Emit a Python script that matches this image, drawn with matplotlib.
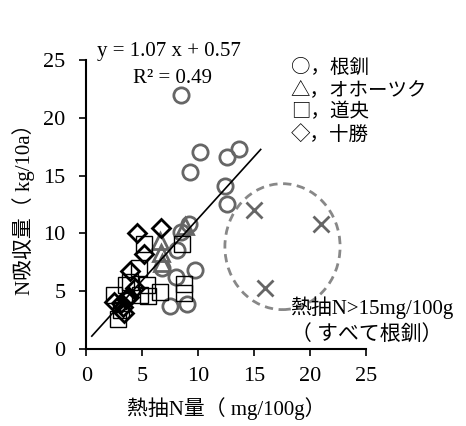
import matplotlib
matplotlib.use('Agg')
import matplotlib.pyplot as plt
from matplotlib.patches import Ellipse

plt.rcParams['font.family'] = ['Liberation Serif', 'Noto Sans CJK JP']

# 根釧 (circles)
konsen_x = [8.5, 10.2, 12.6, 13.7, 9.3, 12.4, 12.6, 9.2, 8.5, 8.1, 6.8, 8.0, 9.7, 7.5, 9.0]
konsen_y = [22.0, 17.0, 16.6, 17.3, 15.3, 14.1, 12.5, 10.8, 10.1, 8.6, 7.0, 6.2, 6.8, 3.7, 3.9]
# オホーツク (triangles)
okhotsk_x = [6.6, 6.7, 6.8, 8.8]
okhotsk_y = [9.3, 8.3, 7.4, 10.6]
# 道央 (squares)
doo_x = [5.2, 4.7, 5.4, 2.5, 3.6, 4.8, 5.5, 6.6, 8.7, 8.7, 8.6, 2.8, 3.1, 3.9]
doo_y = [9.1, 7.0, 5.5, 4.7, 5.5, 4.7, 4.6, 4.9, 5.6, 4.8, 9.1, 2.6, 3.4, 5.8]
# 十勝 (diamonds)
tokachi_x = [4.5, 6.7, 5.2, 3.9, 4.4, 2.5, 3.1, 3.6, 3.4, 3.8, 3.3]
tokachi_y = [10.0, 10.5, 8.2, 6.7, 5.3, 4.1, 4.0, 4.3, 3.1, 4.5, 3.6]
# 熱抽N>15mg/100g
high_x = [15.0, 21.0, 16.0]
high_y = [12.0, 10.8, 5.3]

slope, intercept = 1.07, 0.57
fit_x = [0.5, 15.6]
fit_y = [slope * v + intercept for v in fit_x]

fig = plt.figure(figsize=(4.66, 4.26), dpi=100)
ax = fig.add_axes([0.185, 0.181, 0.6, 0.678])

gray = '#666666'
ax.plot(konsen_x, konsen_y, 'o', ms=11, mfc='none', mec=gray, mew=2)
ax.plot(okhotsk_x, okhotsk_y, '^', ms=11, mfc='none', mec=gray, mew=2)
ax.plot(doo_x, doo_y, 's', ms=12, mfc='none', mec='black', mew=1)
ax.plot(tokachi_x, tokachi_y, 'D', ms=9, mfc='none', mec='black', mew=2)
ax.plot(high_x, high_y, 'x', ms=11, color=gray, mew=2)
ax.plot(fit_x, fit_y, color='black', lw=1.2)

ax.add_patch(Ellipse((17.55, 8.85), 10.3, 10.9, fill=False, ec='#888888',
                     lw=2, ls=(0, (3, 2))))

ax.set_xlim(0, 25)
ax.set_ylim(0, 25)
ax.set_xticks(range(0, 26, 5))
ax.set_yticks(range(0, 26, 5))
ax.spines['top'].set_visible(False)
ax.spines['right'].set_visible(False)
ax.spines['left'].set_linewidth(1.5)
ax.spines['bottom'].set_linewidth(1.5)
ax.tick_params(direction='out', length=5, width=1.2, labelsize=16)
ax.tick_params(axis='x', pad=8)
ax.tick_params(axis='y', pad=10)

ax.set_xlabel('熱抽N量（ mg/100g）', fontsize=15, labelpad=8)
ax.set_ylabel('N吸収量（ kg/10a）', fontsize=15, labelpad=6)

ax.text(1.0, 25.7, 'y = 1.07 x + 0.57', fontsize=15, va='center')
ax.text(4.2, 23.4, 'R² = 0.49', fontsize=15, va='center')

legend_lines = ['○，根釧', '△，オホーツク', '□，道央', '◇，十勝']
for i, s in enumerate(legend_lines):
    ax.text(18.3, 24.4 - i * 1.95, s, fontsize=14, va='center',
            family=['Noto Sans CJK JP'])

ax.text(18.2, 3.55, '熱抽N>15mg/100g', fontsize=15, va='center')
ax.text(18.3, 1.25, '（ すべて根釧）', fontsize=15, va='center')

fig.savefig('out.png', dpi=100)
